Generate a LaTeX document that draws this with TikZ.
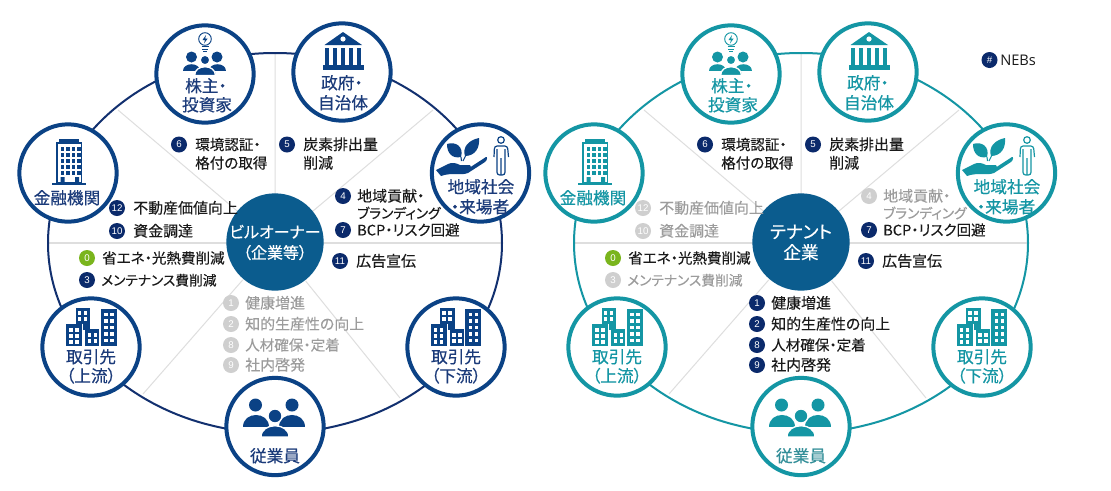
\documentclass[tikz,border=0pt]{standalone}
\usepackage{fontspec}
\setmainfont[RawFeature=+palt]{Noto Sans CJK JP}
\newfontfamily\lblfont[RawFeature=+palt,FakeBold=0.4]{Noto Sans CJK JP}
\newfontfamily\itmfont[RawFeature=+palt,FakeBold=0.2]{Noto Sans CJK JP}
\newfontfamily\numfont{Liberation Sans}
\newfontfamily\latinfont{Open Sans}
\definecolor{navy}{HTML}{0B4285}
\definecolor{navylbl}{HTML}{1B3B7A}
\definecolor{ringnavy}{HTML}{12306F}
\definecolor{teal}{HTML}{1496A4}
\definecolor{centerc}{HTML}{0B5C8E}
\definecolor{mk}{HTML}{0B2A6B}
\definecolor{mkgray}{HTML}{CFCFCF}
\definecolor{green}{HTML}{7AB51D}
\definecolor{spokec}{HTML}{DEDEDE}
\definecolor{txtgray}{HTML}{9C9C9C}
\definecolor{txtdark}{HTML}{1A1A1A}
\newcommand{\kana}[1]{{\fontsize{10.3}{13}\selectfont #1}}
\newcommand{\kanb}[1]{{\fontsize{10.9}{13}\selectfont #1}}
\tikzset{
  x=0.75pt,y=-0.75pt,
  spoke/.style={draw=spokec,line width=0.75pt},
  ring/.style={draw=ringc,line width=1.5pt},
  stake/.style={circle,draw=ic,line width=3pt,fill=white,minimum size=73pt,inner sep=0pt},
  hub/.style={circle,fill=centerc,minimum size=73pt,inner sep=0pt},
  hubtxt/.style={text=white,align=center,font=\lblfont\fontsize{12}{15.5}\selectfont,inner sep=0pt},
  lbl/.style={text=lc,font=\lblfont\fontsize{12.5}{14}\selectfont,inner sep=0pt,text height=10.6pt,text depth=1.5pt},
  itmk/.style={circle,fill=#1,minimum size=12pt,inner sep=0pt,text=white,font=\numfont\fontsize{7.3}{8}\selectfont},
  itmt/.style={anchor=west,inner sep=0pt,text=#1,font=\itmfont\fontsize{11.2}{13}\selectfont,text height=9.5pt,text depth=1.3pt},
}
\newcommand{\itm}[8]{%
  \node[itmk=#6] (\p m#1) at (#2,#3) {#4};
  \node[itmt=#7] (\p t#1) at (#8,#3) {#5};
}
\newcommand{\pers}[5]{%
  \fill[ic] (#1,#2) circle (#3);
  \fill[ic] (#1-#4,#5) .. controls (#1-#4,#2+#3-1) and (#1+#4,#2+#3-1) .. (#1+#4,#5) -- cycle;
}
\newcommand{\persw}[5]{%
  \fill[ic,draw=white,line width=1pt] (#1,#2) circle (#3);
  \fill[ic,draw=white,line width=1pt] (#1-#4,#5) .. controls (#1-#4,#2+#3-1) and (#1+#4,#2+#3-1) .. (#1+#4,#5) -- cycle;
}
\newcommand{\invicon}{%
  \draw[ic,line width=0.7pt] (205,39) circle (6.3);
  \draw[ic,line width=0.7pt] (201.5,46) -- (208.5,46) (202,49) -- (208,49) (203,51.5) -- (207,51.5);
  \fill[ic] (206,35) -- (202.5,40) -- (205,40) -- (204,43.5) -- (207.7,38.5) -- (205.2,38.5) -- cycle;
  \pers{191.5}{57}{5.5}{8.5}{71}
  \pers{217}{57}{5.5}{8.5}{71}
  \persw{205}{60}{4.8}{10.5}{75.5}
}
\newcommand{\bankicon}{%
  \fill[ic] (324.5,45) -- (343,32) -- (362,45) -- cycle;
  \fill[white] (343,39) circle (2.6);
  \foreach \cx in {325,333,341,349,357}{\fill[ic] (\cx+.2,47.5) rectangle (\cx+4.2,65);}
  \fill[ic] (323,65) rectangle (364,70);
}
\newcommand{\bldgicon}{%
  \fill[ic] (59,138.5) rectangle (79,143);
  \draw[ic,line width=1.1pt] (57,143) rectangle (81.5,183);
  \fill[ic] (52,183) rectangle (86,185);
  \foreach \wy in {147,153,159,165,171}{\foreach \wx in {60.5,66,71.5,77}{\fill[ic] (\wx,\wy) rectangle (\wx+3.6,\wy+3.8);}}
  \fill[ic] (60.5,177) rectangle (64.5,183) (75,177) rectangle (79,183);
}
\newcommand{\wgrid}[4]{%
  \foreach \wx in {#1}{\foreach \wy in {#2}{\fill[white] (\wx,\wy) rectangle (\wx+#3,\wy+#4);}}
}
\newcommand{\cityicon}[1]{%
  \begin{scope}[shift={(#1,0)}]
  \fill[ic] (0,323.5) rectangle (16.5,346);
  \fill[ic] (9.5,308) rectangle (24,330);
  \fill[ic] (18.5,328.5) rectangle (33,346);
  \fill[ic] (34.5,309) rectangle (50.5,346);
  \draw[white,line width=.6pt] (16.5,330) -- (18.5,330) -- (18.5,346) (16.5,323.5) -- (16.5,346);
  \wgrid{11.5,17.5}{311,317}{3.6}{3.6}
  \wgrid{3,9}{328,334,340}{3.6}{3.6}
  \wgrid{21.5,27.5}{333,339}{3.6}{3.6}
  \wgrid{38,44}{312.5,319,325.5,332,338.5}{3.6}{3.6}
  \end{scope}
}
\newcommand{\handicon}{%
  \fill[ic] (447,144) .. controls (456,141) and (464,147) .. (461,157) .. controls (452,159) and (447,153) .. (447,144) -- cycle;
  \fill[ic] (465,156) .. controls (462,147) and (469,140) .. (479,138) .. controls (480,148) and (475,156) .. (465,156) -- cycle;
  \draw[ic,line width=.8pt] (461,157) -- (461.5,161) (466,155) -- (463,161);
  \fill[ic] (436,170) -- (448,164) .. controls (452,162) and (456,163) .. (460,165) -- (470,165) .. controls (472,167) and (470,170) .. (466,170) -- (486,157) .. controls (488,156) and (487,161) .. (485,162) -- (468,173) .. controls (460,176) and (452,172) .. (441,176) -- cycle;
  \draw[ic,line width=.9pt] (501,140) circle (3.3);
  \draw[ic,line width=.9pt,rounded corners=2pt] (494,157) -- (494.5,146) -- (507.5,146) -- (508.5,157) (497,149) -- (497,175) -- (505,175) -- (505,149) (501,158) -- (501,175);
}
\newcommand{\diagram}[7]{%
  \def\p{#1}
  \colorlet{ic}{#3}\colorlet{ringc}{#4}\colorlet{lc}{#5}
  \begin{scope}[shift={(#2,0)}]
  \node[hub,fill=none,draw=none] (\p c) at (275,243) {};
  \coordinate (\p sT) at (275,53);
  \coordinate (\p sL) at (48,243);
  \coordinate (\p sR) at (502,243);
  \coordinate (\p sA) at (118,110);
  \coordinate (\p sB) at (433,110);
  \coordinate (\p sC) at (143,394);
  \coordinate (\p sD) at (400,398);
  \draw[spoke,line width=1.5pt] (\p sL) -- (\p sR);
  \draw[spoke] (\p sT) -- (\p c) (\p sA) -- (\p c) (\p sB) -- (\p c) (\p sC) -- (\p c) (\p sD) -- (\p c);
  \draw[ring] (\p c) ellipse (227 and 190);
  \node[hub] (\p hub) at (275,242) {};
  \node[stake] (\p n1) at (205,74) {};
  \node[stake] (\p n2) at (342,72) {};
  \node[stake] (\p n3) at (480.5,173) {};
  \node[stake] (\p n4) at (68,173) {};
  \node[stake] (\p n5) at (91,347) {};
  \node[stake] (\p n6) at (456,347) {};
  \node[stake] (\p n7) at (275,426.5) {};
  \invicon \bankicon \handicon \bldgicon \cityicon{66} \cityicon{430.5}
  \pers{255.5}{405}{6.5}{13}{427}
  \pers{292}{405}{6.5}{13}{427}
  \persw{275}{416}{7}{14}{437}
  \node[lbl] (\p l1a) at (206,86) {株主・};
  \node[lbl] (\p l1b) at (207,105) {投資家};
  \node[lbl] (\p l2a) at (342,83) {政府・};
  \node[lbl] (\p l2b) at (343,103) {自治体};
  \node[lbl] (\p l3a) at (481,187) {地域社会};
  \node[lbl] (\p l3b) at (480,207) {・来場者};
  \node[lbl] (\p l4) at (67,198) {金融機関};
  \node[lbl] (\p l5a) at (91,357) {取引先};
  \node[lbl] (\p l5b) at (91,376) {（上流）};
  \node[lbl] (\p l6a) at (456,357) {取引先};
  \node[lbl] (\p l6b) at (456,376) {（下流）};
  \node[lbl,text=#7] (\p l7) at (275,456) {従業員};
  \node[hubtxt] (\p hubt) at (275,242.5) {#6};
  \itm{6}{179}{144.5}{6}{\kanb{環境認証・}}{mk}{txtdark}{195}
  \node[itmt=txtdark] (\p t6b) at (195,163) {\kanb{格付の取得}};
  \itm{5}{287}{144.5}{5}{炭素排出量}{mk}{txtdark}{303}
  \node[itmt=txtdark] (\p t5b) at (303,163) {削減};
  \itm{7}{343}{230}{7}{\kanb{BCP・リスク回避}}{mk}{txtdark}{357}
  \itm{11}{340}{261}{11}{\lblfont 広告宣伝}{mk}{txtdark}{356}
  \itm{0}{87}{258}{0}{\kanb{省エネ・光熱費削減}}{green}{txtdark}{102}
  \end{scope}
}
\begin{document}
\begin{tikzpicture}
\useasboundingbox (0,0) rectangle (1111,490);
\fill[white] (0,0) rectangle (1111,490);
\diagram{a}{0}{navy}{ringnavy}{navylbl}{ビルオーナー\\（企業等）}{navylbl}
\begin{scope}
  \def\p{a}
  \itm{12}{117}{208}{12}{不動産価値向上}{mk}{txtdark}{133}
  \itm{10}{117}{231}{10}{資金調達}{mk}{txtdark}{133}
  \itm{4}{343}{196}{4}{地域貢献・}{mk}{txtdark}{357}
  \node[itmt=txtdark] (at4b) at (357,213) {\kana{ブランディング}};
  \itm{3}{87}{280}{3}{\kana{メンテナンス費削減}}{mk}{txtdark}{101}
  \itm{1}{231}{303}{1}{健康増進}{mkgray}{txtgray}{245}
  \itm{2}{231}{324}{2}{知的生産性の向上}{mkgray}{txtgray}{245}
  \itm{8}{231}{345}{8}{\kanb{人材確保・定着}}{mkgray}{txtgray}{245}
  \itm{9}{231}{365}{9}{社内啓発}{mkgray}{txtgray}{245}
\end{scope}
\diagram{b}{526}{teal}{teal}{teal}{\fontsize{13.2}{16.5}\selectfont テナント\\\fontsize{13.2}{16.5}\selectfont 企業}{teal!70!gray}
\begin{scope}[shift={(526,0)}]
  \def\p{b}
  \itm{12}{117}{208}{12}{不動産価値向上}{mkgray}{txtgray}{133}
  \itm{10}{117}{231}{10}{資金調達}{mkgray}{txtgray}{133}
  \itm{4}{343}{196}{4}{地域貢献・}{mkgray}{txtgray}{357}
  \node[itmt=txtgray] (bt4b) at (357,213) {\kana{ブランディング}};
  \itm{3}{87}{280}{3}{\kana{メンテナンス費削減}}{mkgray}{txtgray}{101}
  \itm{1}{231}{303}{1}{健康増進}{mk}{txtdark}{245}
  \itm{2}{231}{324}{2}{知的生産性の向上}{mk}{txtdark}{245}
  \itm{8}{231}{345}{8}{\kanb{人材確保・定着}}{mk}{txtdark}{245}
  \itm{9}{231}{365}{9}{社内啓発}{mk}{txtdark}{245}
\end{scope}
\node[itmk=mk] (legm) at (989.5,60) {\#};
\node[anchor=west,inner sep=0pt,text=txtdark,font=\latinfont\fontsize{11}{13}\selectfont] (legt) at (1000,60) {NEBs};
\end{tikzpicture}
\end{document}
